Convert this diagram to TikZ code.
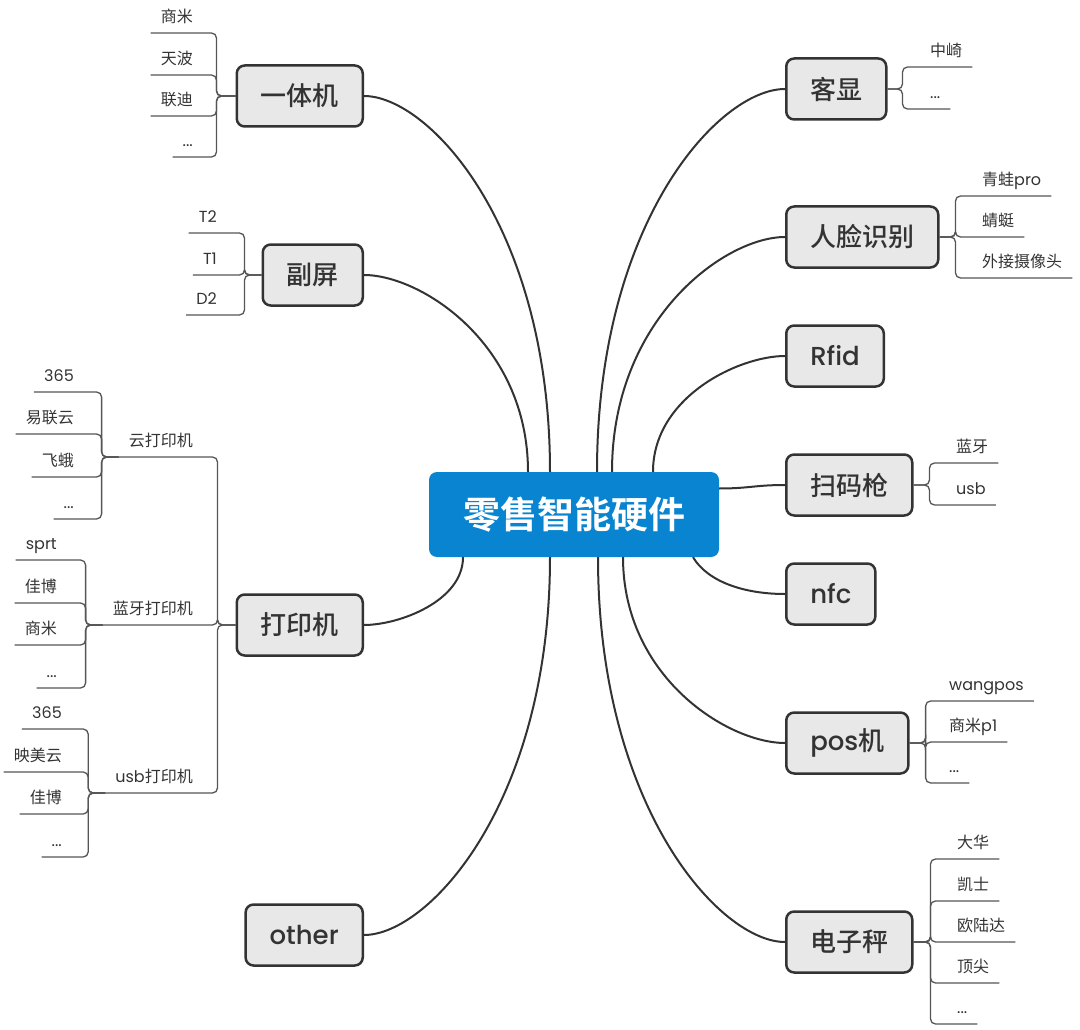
\documentclass[tikz,border=0pt]{standalone}
\usepackage{fontspec}
\setmainfont{Poppins}
\newfontfamily\cjk{Noto Sans CJK SC}[BoldFont={Noto Sans CJK SC Medium}]
\newfontfamily\rootfont{Noto Sans CJK SC Bold}
\newfontfamily\latinfont{Poppins}[BoldFont={Poppins Medium}]
\newcommand{\en}[1]{{\latinfont #1}}
\definecolor{rootblue}{RGB}{8,132,208}
\definecolor{boxgray}{RGB}{232,232,232}
\definecolor{linegray}{RGB}{51,51,51}
\definecolor{twiggray}{RGB}{85,85,85}

\begin{document}
\begin{tikzpicture}[x=1pt,y=-1pt,
    root/.style={rounded corners=8pt, fill=rootblue, text=white, minimum width=290pt, minimum height=85pt, font=\rootfont\fontsize{37}{40}\selectfont},
    topic/.style={rounded corners=8pt, draw=linegray, line width=2.5pt, fill=boxgray, minimum height=61pt, inner xsep=24pt, text=linegray, font=\cjk\bfseries\fontsize{26}{30}\selectfont},
    leaf/.style={inner xsep=10pt, inner ysep=6pt, text height=12pt, text depth=4pt, text=linegray, font=\cjk\fontsize{16}{18}\selectfont},
    branch/.style={draw=linegray, line width=2pt},
    twig/.style={draw=twiggray, line width=1.3pt, rounded corners=5pt}]
    \useasboundingbox (0,0) rectangle (1080,1030);

    \node[root] (root) at (574,514.5) {零售智能硬件};

    % 一体机
    \node[topic, anchor=east] (yiti) at (364,96) {一体机};
    \node[leaf, anchor=south east] (yiti1) at (203,33) {商米};
    \node[leaf, anchor=south east] (yiti2) at (203,75) {天波};
    \node[leaf, anchor=south east] (yiti3) at (203,116) {联迪};
    \node[leaf, anchor=south east] (yiti4) at (203,157) {\en{...}};
    \draw[twig] (yiti.west) -- ++(-19,0) |- (yiti1.south west);
    \draw[twig] (yiti.west) -- ++(-19,0) |- (yiti2.south west);
    \draw[twig] (yiti.west) -- ++(-19,0) |- (yiti3.south west);
    \draw[twig] (yiti.west) -- ++(-19,0) |- (yiti4.south west);
    \draw[branch] ([xshift=-24pt]root.north) .. controls +(0,-245) and +(65,0) .. (yiti.east);

    % 副屏
    \node[topic, anchor=east] (fuping) at (364,275) {副屏};
    \node[leaf, anchor=south east] (fuping1) at (227,233) {\en{T2}};
    \node[leaf, anchor=south east] (fuping2) at (227,275) {\en{T1}};
    \node[leaf, anchor=south east] (fuping3) at (227,315) {\en{D2}};
    \draw[twig] (fuping.west) -- ++(-17,0) |- (fuping1.south west);
    \draw[twig] (fuping.west) -- ++(-17,0) |- (fuping2.south west);
    \draw[twig] (fuping.west) -- ++(-17,0) |- (fuping3.south west);
    \draw[branch] ([xshift=-46pt]root.north) .. controls +(0,-128) and +(57,0) .. (fuping.east);

    % 打印机
    \node[topic, anchor=east] (printer) at (364,625) {打印机};
    \node[leaf, anchor=south east] (cloud) at (203,457) {云打印机};
    \node[leaf, anchor=south east] (bt) at (203,625) {蓝牙打印机};
    \node[leaf, anchor=south east] (usb) at (203,793) {\en{usb}打印机};
    \draw[twig] (printer.west) -- ++(-18,0) |- (cloud.south west);
    \draw[twig] (printer.west) -- ++(-18,0) |- (bt.south west);
    \draw[twig] (printer.west) -- ++(-18,0) |- (usb.south west);
    \draw[branch] ([xshift=-111pt]root.south) .. controls +(0,44) and +(35,0) .. (printer.east);

    \node[leaf, anchor=south east] (cloud1) at (84,392) {\en{365}};
    \node[leaf, anchor=south east] (cloud2) at (84,434) {易联云};
    \node[leaf, anchor=south east] (cloud3) at (84,477) {飞蛾};
    \node[leaf, anchor=south east] (cloud4) at (84,519) {\en{...}};
    \draw[twig] (cloud.south west) -- ++(-17,0) |- (cloud1.south west);
    \draw[twig] (cloud.south west) -- ++(-17,0) |- (cloud2.south west);
    \draw[twig] (cloud.south west) -- ++(-17,0) |- (cloud3.south west);
    \draw[twig] (cloud.south west) -- ++(-17,0) |- (cloud4.south west);

    \node[leaf, anchor=south east] (bt1) at (67,560) {\en{sprt}};
    \node[leaf, anchor=south east] (bt2) at (67,603) {佳博};
    \node[leaf, anchor=south east] (bt3) at (67,645) {商米};
    \node[leaf, anchor=south east] (bt4) at (67,688) {\en{...}};
    \draw[twig] (bt.south west) -- ++(-17,0) |- (bt1.south west);
    \draw[twig] (bt.south west) -- ++(-17,0) |- (bt2.south west);
    \draw[twig] (bt.south west) -- ++(-17,0) |- (bt3.south west);
    \draw[twig] (bt.south west) -- ++(-17,0) |- (bt4.south west);

    \node[leaf, anchor=south east] (usb1) at (72,729) {\en{365}};
    \node[leaf, anchor=south east] (usb2) at (72,772) {映美云};
    \node[leaf, anchor=south east] (usb3) at (72,814) {佳博};
    \node[leaf, anchor=south east] (usb4) at (72,857) {\en{...}};
    \draw[twig] (usb.south west) -- ++(-17,0) |- (usb1.south west);
    \draw[twig] (usb.south west) -- ++(-17,0) |- (usb2.south west);
    \draw[twig] (usb.south west) -- ++(-17,0) |- (usb3.south west);
    \draw[twig] (usb.south west) -- ++(-17,0) |- (usb4.south west);

    % other
    \node[topic, anchor=east] (other) at (364,935) {\en{other}};
    \draw[branch] ([xshift=-24pt]root.south) .. controls +(0,245) and +(65,0) .. (other.east);

    % 客显
    \node[topic, anchor=west] (kexian) at (785,89) {客显};
    \node[leaf, anchor=south west] (kexian1) at (920,67) {中崎};
    \node[leaf, anchor=south west] (kexian2) at (920,109) {\en{...}};
    \draw[twig] (kexian.east) -- ++(15,0) |- (kexian1.south east);
    \draw[twig] (kexian.east) -- ++(15,0) |- (kexian2.south east);
    \draw[branch] ([xshift=23pt]root.north) .. controls +(0,-250) and +(-66,0) .. (kexian.west);

    % 人脸识别
    \node[topic, anchor=west] (face) at (785,237) {人脸识别};
    \node[leaf, anchor=south west] (face1) at (972,196) {青蛙\en{pro}};
    \node[leaf, anchor=south west] (face2) at (972,237) {蜻蜓};
    \node[leaf, anchor=south west] (face3) at (972,278) {外接摄像头};
    \draw[twig] (face.east) -- ++(16,0) |- (face1.south east);
    \draw[twig] (face.east) -- ++(16,0) |- (face2.south east);
    \draw[twig] (face.east) -- ++(16,0) |- (face3.south east);
    \draw[branch] ([xshift=38pt]root.north) .. controls +(0,-153) and +(-60,0) .. (face.west);

    % Rfid
    \node[topic, anchor=west] (rfid) at (785,356) {\en{Rfid}};
    \draw[branch] ([xshift=79pt]root.north) .. controls +(0,-75) and +(-46,0) .. (rfid.west);

    % 扫码枪
    \node[topic, anchor=west] (scan) at (785,485) {扫码枪};
    \node[leaf, anchor=south west] (scan1) at (946,463) {蓝牙};
    \node[leaf, anchor=south west] (scan2) at (946,505) {\en{usb}};
    \draw[twig] (scan.east) -- ++(16,0) |- (scan1.south east);
    \draw[twig] (scan.east) -- ++(16,0) |- (scan2.south east);
    \draw[branch] ([yshift=26pt]root.east) .. controls +(30,0) and +(-30,0) .. (scan.west);

    % nfc
    \node[topic, anchor=west] (nfc) at (785,594) {\en{nfc}};
    \draw[branch] ([xshift=119pt]root.south) .. controls +(15,25) and +(-40,0) .. (nfc.west);

    % pos机
    \node[topic, anchor=west] (pos) at (785,743) {\en{pos}机};
    \node[leaf, anchor=south west] (pos1) at (939,701) {\en{wangpos}};
    \node[leaf, anchor=south west] (pos2) at (939,742) {商米\en{p1}};
    \node[leaf, anchor=south west] (pos3) at (939,783) {\en{...}};
    \draw[twig] (pos.east) -- ++(16,0) |- (pos1.south east);
    \draw[twig] (pos.east) -- ++(16,0) |- (pos2.south east);
    \draw[twig] (pos.east) -- ++(16,0) |- (pos3.south east);
    \draw[branch] ([xshift=49pt]root.south) .. controls +(0,120) and +(-57,0) .. (pos.west);

    % 电子秤
    \node[topic, anchor=west] (scale) at (785,942) {电子秤};
    \node[leaf, anchor=south west] (scale1) at (947,859) {大华};
    \node[leaf, anchor=south west] (scale2) at (947,901) {凯士};
    \node[leaf, anchor=south west] (scale3) at (947,942) {欧陆达};
    \node[leaf, anchor=south west] (scale4) at (947,983) {顶尖};
    \node[leaf, anchor=south west] (scale5) at (947,1024) {\en{...}};
    \draw[twig] (scale.east) -- ++(17,0) |- (scale1.south east);
    \draw[twig] (scale.east) -- ++(17,0) |- (scale2.south east);
    \draw[twig] (scale.east) -- ++(17,0) |- (scale3.south east);
    \draw[twig] (scale.east) -- ++(17,0) |- (scale4.south east);
    \draw[twig] (scale.east) -- ++(17,0) |- (scale5.south east);
    \draw[branch] ([xshift=24pt]root.south) .. controls +(0,250) and +(-65,0) .. (scale.west);
\end{tikzpicture}
\end{document}
